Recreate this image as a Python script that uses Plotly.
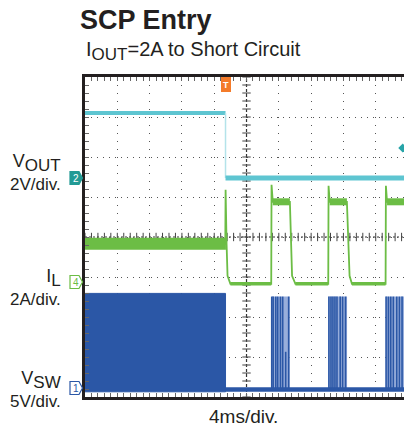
import plotly.graph_objects as go

# ---------------- channel settings ----------------
t_range = [-20.0, 19.5]          # ms shown (4 ms/div)
t_event = -2.6                   # short applied (trigger)
vout_scale, vout_gnd_div = 2.0, 1.45   # V/div, ground marker position (div)
il_scale, il_gnd_div = 2.0, -1.12      # A/div
vsw_scale, vsw_gnd_div = 5.0, -3.79    # V/div

# ---------------- VOUT (V) ----------------
vout_before_t = [-20.0, -2.6]
vout_before_v = [3.3, 3.3]
vout_drop_t = [-2.6, -2.6]
vout_drop_v = [3.3, 0.05]
vout_after_t = [-2.6, 19.5]
vout_after_v = [0.05, 0.05]
vout_trig_level = 1.55

# ---------------- IL (A) ----------------
il_t = [-20.0, -2.63, -2.59, -2.55, -2.47, -2.35, -2.0,
        3.06, 3.1, 3.25, 5.37, 5.64, 6.05,
        10.12, 10.16, 10.3, 12.43, 12.76, 13.05,
        17.22, 17.26, 17.4, 19.5]
il_a = [1.9, 1.9, 4.6, 1.9, 1.9, 0.3, -0.1,
        -0.1, 4.85, 4.0, 4.0, 0.3, -0.1,
        -0.1, 4.8, 4.0, 4.0, 0.3, -0.1,
        -0.1, 4.8, 4.0, 4.0]
il_pre_t = [-20.0, -2.55]
il_pre_a = [1.9, 1.9]
il_pulse_t = [3.25, 5.37, None, 10.3, 12.43, None, 17.4, 19.5]
il_pulse_a = [4.0, 4.0, None, 4.0, 4.0, None, 4.0, 4.0]
il_low_t = [-2.0, 3.06, None, 6.05, 10.12, None, 13.05, 17.22]
il_low_a = [-0.1, -0.1, None, -0.1, -0.1, None, -0.1, -0.1]

# ---------------- VSW (V) ----------------
vsw_block_t = [-20.0, -2.6, -2.6, -20.0]
vsw_block_v = [11.9, 11.9, -0.4, -0.4]
vsw_low_t = [-2.6, 19.5]
vsw_low_v = [-0.1, -0.1]
burst_start = [3.1, 10.15, 17.25]
burst_end = [5.35, 12.45, 19.5]
burst_top = 11.5
stripe_t = [3.12, 3.3, 3.62, 3.86, 4.2, 4.48, 4.85, 5.22,
            10.2, 10.46, 10.7, 10.95, 11.2, 11.6, 11.9, 12.26,
            17.28, 17.57, 17.86, 18.18, 18.6, 18.93, 19.26]
stripe_top = [11.5, 11.5, 11.5, 11.5, 11.5, 11.5, 4.6, 11.5,
              11.5, 11.5, 11.5, 11.5, 11.5, 11.5, 11.5, 11.5,
              11.5, 11.5, 11.5, 11.5, 11.5, 11.5, 11.5]

# ---------------- labels ----------------
title_text = "SCP Entry"
subtitle_main, subtitle_sub, subtitle_rest = "I", "OUT", "=2A to Short Circuit"
ch_labels = [("V", "OUT", "2V/div."), ("I", "L", "2A/div."), ("V", "SW", "5V/div.")]
time_label = "4ms/div."

# ---------------- styles ----------------
CYAN = "#5EC5D1"
CYAN_L = "#B4E3EA"
GREEN = "#6CBD45"
BLUE = "#2B57A6"
BLUE_L = "#98AEDB"
TEAL = "#229A95"
ORANGE = "#F47B2A"
INK = "#231F20"
FONT = "Liberation Sans, Arial, sans-serif"

L, R, T, B = 85, 0, 77, 33
W, H = 404, 430
PW, PH = W - L - R, H - T - B


def pxx(x):
    return (x - L) / PW


def pyy(y):
    return (H - B - y) / PH


def ch_range(scale, gnd):
    return [(-4 - gnd) * scale, (4 - gnd) * scale]


def sub(txt, size):
    return "<sub><span style='font-size:%dpx'>%s</span></sub>" % (size, txt)


fig = go.Figure()

# graticule center-line ticks (decoration)
ct_x = [-20 + 0.8 * i for i in range(50)]
fig.add_trace(go.Scatter(x=ct_x, y=[0] * len(ct_x), mode="markers", yaxis="y",
                         marker=dict(symbol="line-ns", size=6, line=dict(width=1, color="#444")),
                         hoverinfo="skip", showlegend=False))
ct_y = [-4 + 0.2 * i for i in range(41)]
fig.add_trace(go.Scatter(x=[0] * len(ct_y), y=ct_y, mode="markers", yaxis="y",
                         marker=dict(symbol="line-ew", size=6, line=dict(width=1, color="#444")),
                         hoverinfo="skip", showlegend=False))

# VSW (y4)
fig.add_trace(go.Scatter(x=vsw_block_t, y=vsw_block_v, fill="toself", fillcolor=BLUE,
                         mode="lines", line=dict(color=BLUE, width=1), yaxis="y4",
                         hoverinfo="skip", showlegend=False))
bx, by = [], []
for s, e in zip(burst_start, burst_end):
    bx += [s, e, e, s, s, None]
    by += [burst_top, burst_top, 0, 0, burst_top, None]
fig.add_trace(go.Scatter(x=bx, y=by, fill="toself", fillcolor=BLUE_L, mode="lines",
                         line=dict(width=0), yaxis="y4", hoverinfo="skip", showlegend=False))
sx, sy = [], []
for t, top in zip(stripe_t, stripe_top):
    sx += [t, t, None]
    sy += [0, top, None]
fig.add_trace(go.Scatter(x=sx, y=sy, mode="lines", line=dict(color=BLUE, width=1.6),
                         yaxis="y4", hoverinfo="skip", showlegend=False))
fig.add_trace(go.Scatter(x=vsw_low_t, y=vsw_low_v, mode="lines", line=dict(color=BLUE, width=4.5),
                         yaxis="y4", hoverinfo="skip", showlegend=False))

# IL (y3)
fig.add_trace(go.Scatter(x=il_pre_t, y=il_pre_a, mode="lines", line=dict(color=GREEN, width=12),
                         yaxis="y3", hoverinfo="skip", showlegend=False))
fig.add_trace(go.Scatter(x=il_pulse_t, y=il_pulse_a, mode="lines", line=dict(color=GREEN, width=7),
                         yaxis="y3", hoverinfo="skip", showlegend=False))
fig.add_trace(go.Scatter(x=il_low_t, y=il_low_a, mode="lines", line=dict(color=GREEN, width=3.5),
                         yaxis="y3", hoverinfo="skip", showlegend=False))
fig.add_trace(go.Scatter(x=il_t, y=il_a, mode="lines", line=dict(color=GREEN, width=1.8),
                         yaxis="y3", hoverinfo="skip", showlegend=False))

# VOUT (y2)
fig.add_trace(go.Scatter(x=vout_before_t, y=vout_before_v, mode="lines", line=dict(color=CYAN, width=4),
                         yaxis="y2", hoverinfo="skip", showlegend=False))
fig.add_trace(go.Scatter(x=vout_drop_t, y=vout_drop_v, mode="lines", line=dict(color=CYAN_L, width=1.5),
                         yaxis="y2", hoverinfo="skip", showlegend=False))
fig.add_trace(go.Scatter(x=vout_after_t, y=vout_after_v, mode="lines", line=dict(color=CYAN, width=5),
                         yaxis="y2", hoverinfo="skip", showlegend=False))
fig.add_trace(go.Scatter(x=[19.35], y=[vout_trig_level], mode="markers", yaxis="y2",
                         marker=dict(symbol="diamond", size=7, color="#27A4A8"), cliponaxis=False,
                         hoverinfo="skip", showlegend=False))

# center cross lines
fig.add_shape(type="line", xref="x", yref="y", x0=0, x1=0, y0=-4, y1=4, layer="below",
              line=dict(color="#333", width=1.2, dash="3px,2px"))
fig.add_shape(type="line", xref="x", yref="y", x0=t_range[0], x1=t_range[1], y0=0, y1=0, layer="below",
              line=dict(color="#333", width=1.2, dash="2px,2px"))


# channel ground marker tabs (arrow-shaped)
def tab_path(yc):
    x0, x1, x2 = pxx(70), pxx(79), pxx(82.5)
    ya, yb = pyy(yc - 6.5), pyy(yc + 6.5)
    ym = pyy(yc)
    return "M %f,%f L %f,%f L %f,%f L %f,%f L %f,%f Z" % (x0, ya, x1, ya, x2, ym, x1, yb, x0, yb)


for yc, fillc, linec in [(178, TEAL, TEAL), (282, "white", GREEN), (388, "white", BLUE)]:
    fig.add_shape(type="path", xref="paper", yref="paper", path=tab_path(yc),
                  fillcolor=fillc, line=dict(color=linec, width=1.2), layer="above")

ann = []
ann.append(dict(text="<b>%s</b>" % title_text, x=pxx(78), y=pyy(20), xanchor="left", yanchor="middle",
                font=dict(size=27, color=INK, family=FONT)))
ann.append(dict(text=subtitle_main + sub(subtitle_sub, 17) + subtitle_rest, x=pxx(84), y=pyy(51),
                xanchor="left", yanchor="middle", font=dict(size=20, color=INK, family=FONT)))
for (main, sb, scale_txt), yc in zip(ch_labels, [172, 287, 389]):
    txt = main + sub(sb, 17) + "<br><span style='font-size:17px'>%s</span>" % scale_txt
    ann.append(dict(text=txt, x=pxx(63), y=pyy(yc), xanchor="right", yanchor="middle", align="right",
                    font=dict(size=18, color=INK, family=FONT)))
ann.append(dict(text=time_label, x=pxx(243), y=pyy(416), xanchor="center", yanchor="middle",
                font=dict(size=19, color=INK, family=FONT)))
# channel numbers
for num, yc, col in [("2", 178, "white"), ("4", 282, GREEN), ("1", 388, BLUE)]:
    ann.append(dict(text=num, x=pxx(75.5), y=pyy(yc), xanchor="center", yanchor="middle",
                    font=dict(size=10, color=col, family=FONT)))
# trigger marker
ann.append(dict(text="<b>T</b>", x=t_event, xref="x", y=pyy(84), yref="paper", xanchor="center",
                yanchor="middle", bgcolor=ORANGE, bordercolor=ORANGE, borderpad=0, width=8, height=13,
                font=dict(size=9, color="white", family=FONT)))
for a in ann:
    a.setdefault("xref", "paper")
    a.setdefault("yref", "paper")
    a["showarrow"] = False

fig.update_layout(
    width=W, height=H, margin=dict(l=L, r=R, t=T, b=B, pad=0),
    paper_bgcolor="white", plot_bgcolor="white", showlegend=False,
    annotations=ann,
    xaxis=dict(range=t_range, dtick=4, tick0=0, showgrid=True, gridcolor="#555", gridwidth=1,
               griddash="1px,7px", zeroline=False, showline=True, linecolor=INK, linewidth=3,
               mirror="allticks", ticks="inside", ticklen=4, tickcolor="#666", showticklabels=False,
               minor=dict(dtick=0.8, tick0=0, ticks="inside", ticklen=4, tickcolor="#666", showgrid=False),
               fixedrange=True),
    yaxis=dict(range=[-4, 4], dtick=1, tick0=0, showgrid=True, gridcolor="#555", gridwidth=1,
               griddash="1px,5px", zeroline=False, showline=True, linecolor=INK, linewidth=3,
               mirror=False, ticks="inside", ticklen=4, tickcolor="#666", showticklabels=False,
               minor=dict(dtick=0.2, tick0=0, ticks="inside", ticklen=4, tickcolor="#666", showgrid=False),
               fixedrange=True),
    yaxis2=dict(overlaying="y", range=ch_range(vout_scale, vout_gnd_div), visible=False, fixedrange=True),
    yaxis3=dict(overlaying="y", range=ch_range(il_scale, il_gnd_div), visible=False, fixedrange=True),
    yaxis4=dict(overlaying="y", range=ch_range(vsw_scale, vsw_gnd_div), visible=False, fixedrange=True),
)

fig.write_html("out.html", config={"displayModeBar": False},
               post_script="document.body.style.margin='0px';document.body.style.padding='0px';"
                           "document.documentElement.style.overflow='hidden';")
